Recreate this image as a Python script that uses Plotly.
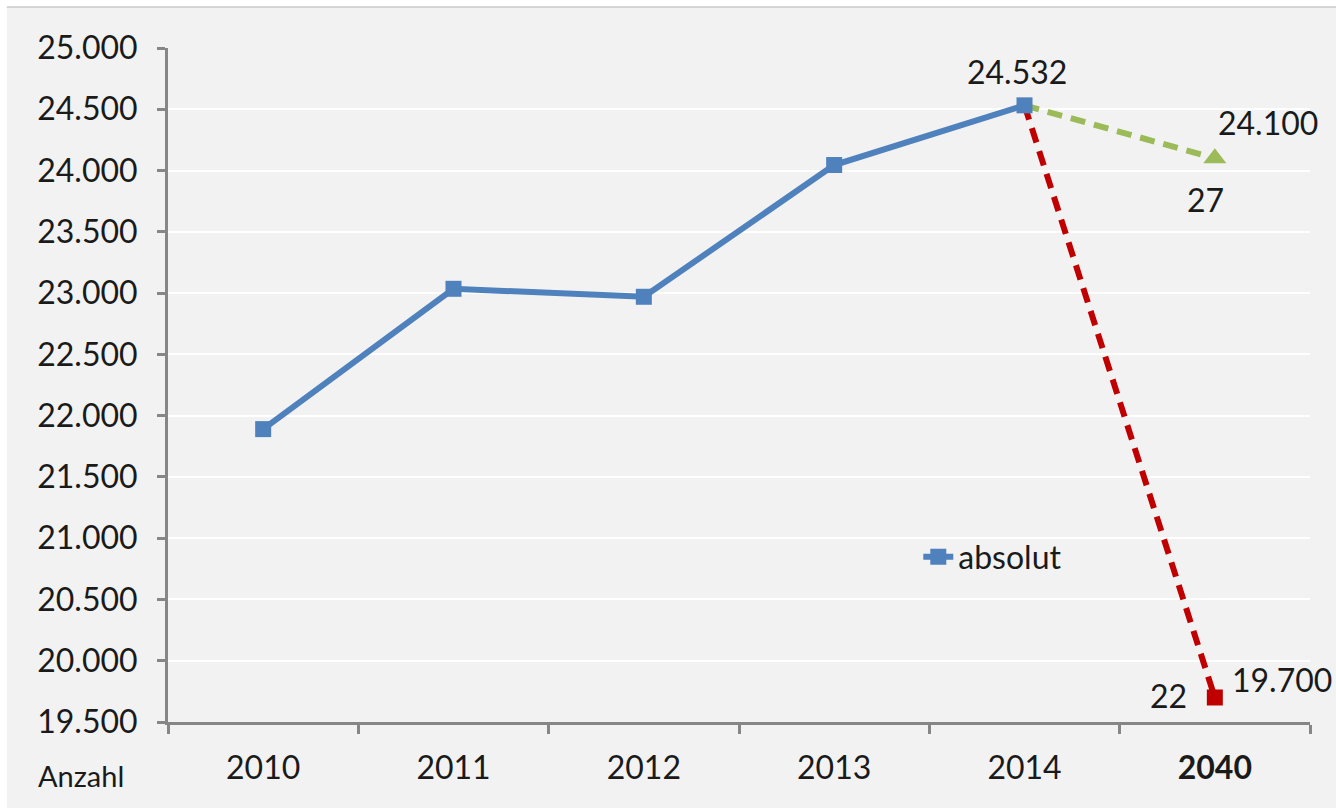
import plotly.graph_objects as go

# Categories on the x axis
years = ["2010", "2011", "2012", "2013", "2014", "2040"]
year_labels = ["2010", "2011", "2012", "2013", "2014", "<b>2040</b>"]

# Observed counts 2010-2014
observed_years = ["2010", "2011", "2012", "2013", "2014"]
observed_values = [21890, 23035, 22970, 24045, 24532]

# Projection variants from 2014 to 2040
proj_high_years = ["2014", "2040"]
proj_high_values = [24532, 24100]
proj_high_note = "27"

proj_low_years = ["2014", "2040"]
proj_low_values = [24532, 19700]
proj_low_note = "22"

y_ticks = [19500, 20000, 20500, 21000, 21500, 22000, 22500, 23000, 23500, 24000, 24500, 25000]

FONT = "Lato"
BLUE = "#4f81bd"
GREEN = "#9bbb59"
RED = "#c00000"
AXIS = "#868686"
PANEL = "#f2f2f2"


def fmt(v):
    return f"{v:,.0f}".replace(",", ".")


def idx(year):
    return years.index(year)


fig = go.Figure()

fig.add_trace(go.Scatter(
    x=proj_high_years, y=proj_high_values, mode="lines",
    line=dict(color=GREEN, width=6, dash="15px,9px"),
    showlegend=False, hoverinfo="skip",
))
fig.add_trace(go.Scatter(
    x=proj_high_years[-1:], y=proj_high_values[-1:], mode="markers",
    marker=dict(symbol="triangle-up", size=20, color=GREEN),
    showlegend=False, hoverinfo="skip",
))
fig.add_trace(go.Scatter(
    x=proj_low_years, y=proj_low_values, mode="lines",
    line=dict(color=RED, width=6, dash="15px,9px"),
    showlegend=False, hoverinfo="skip",
))
fig.add_trace(go.Scatter(
    x=proj_low_years[-1:], y=proj_low_values[-1:], mode="markers",
    marker=dict(symbol="square", size=16, color=RED),
    showlegend=False, hoverinfo="skip",
))
fig.add_trace(go.Scatter(
    x=observed_years, y=observed_values, mode="lines+markers",
    name="absolut",
    line=dict(color=BLUE, width=6),
    marker=dict(symbol="square", size=16, color=BLUE),
))

annotations = [
    dict(x=idx(observed_years[-1]), y=observed_values[-1], text=fmt(observed_values[-1]),
         showarrow=False, yshift=34, xshift=-8),
    dict(x=idx(proj_high_years[-1]), y=proj_high_values[-1], text=fmt(proj_high_values[-1]),
         showarrow=False, xanchor="left", xshift=1, yshift=36),
    dict(x=idx(proj_high_years[-1]), y=proj_high_values[-1], text=proj_high_note,
         showarrow=False, xshift=-9, yshift=-41),
    dict(x=idx(proj_low_years[-1]), y=proj_low_values[-1], text=fmt(proj_low_values[-1]),
         showarrow=False, xanchor="left", xshift=15, yshift=18),
    dict(x=idx(proj_low_years[-1]), y=proj_low_values[-1], text=proj_low_note,
         showarrow=False, xanchor="right", xshift=-26, yshift=2),
    dict(xref="paper", yref="paper", x=-0.116, y=-0.079, text="Anzahl",
         showarrow=False, xanchor="left", yanchor="middle", font=dict(size=29)),
]

shapes = [
    # white page edges around the grey panel
    dict(type="rect", xref="paper", yref="paper", x0=-0.2, x1=1.1, y0=1.0608, y1=1.2,
         fillcolor="white", line=dict(width=0), layer="below"),
    dict(type="rect", xref="paper", yref="paper", x0=-0.2, x1=-0.1411, y0=-0.2, y1=1.2,
         fillcolor="white", line=dict(width=0), layer="below"),
    dict(type="rect", xref="paper", yref="paper", x0=-0.2, x1=1.1, y0=-0.2, y1=-0.1276,
         fillcolor="white", line=dict(width=0), layer="below"),
    dict(type="line", xref="paper", yref="paper", x0=-0.1411, x1=1.1, y0=1.0608, y1=1.0608,
         line=dict(color="#c8c8c8", width=1.5), layer="below"),
]

fig.update_layout(
    width=1336, height=810,
    margin=dict(l=168, r=26, t=48, b=88),
    paper_bgcolor=PANEL, plot_bgcolor=PANEL,
    font=dict(family=FONT, size=32, color="#1a1a1a"),
    separators=",.",
    annotations=annotations,
    shapes=shapes,
    legend=dict(x=0.657, y=0.245, xanchor="left", yanchor="middle",
                bgcolor="rgba(0,0,0,0)", font=dict(size=32), itemwidth=30),
    xaxis=dict(
        type="category", categoryorder="array", categoryarray=years,
        tickvals=years, ticktext=year_labels,
        range=[-0.5, 5.5],
        showgrid=False, zeroline=False,
        showline=True, linecolor=AXIS, linewidth=3,
        ticks="outside", tickson="boundaries", ticklen=9, tickwidth=3, tickcolor=AXIS,
        ticklabelstandoff=16,
    ),
    yaxis=dict(
        range=[19500, 25000], tickvals=y_ticks, tickformat=",d",
        showgrid=True, gridcolor="white", gridwidth=2,
        zeroline=False,
        showline=True, linecolor=AXIS, linewidth=3,
        ticks="outside", ticklen=8, tickwidth=3, tickcolor=AXIS,
        ticklabelstandoff=13,
    ),
)

fig.write_html("out.html")
